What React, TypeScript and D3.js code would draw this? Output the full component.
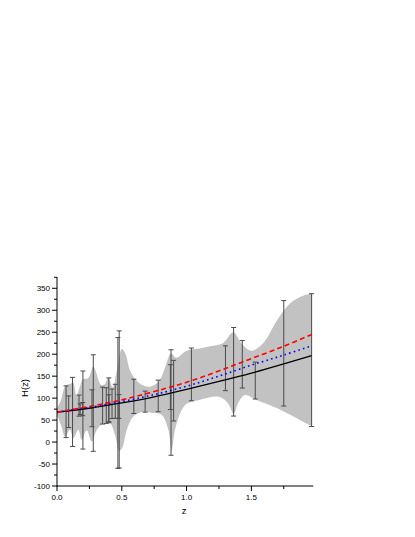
import React from "react";
import * as d3 from "d3";

// observational H(z) points, error half-widths as drawn
const zData = [0.07, 0.09, 0.12, 0.17, 0.179, 0.199, 0.2, 0.27, 0.28, 0.352, 0.3802, 0.4, 0.4004, 0.4247, 0.4497, 0.47, 0.4783, 0.48, 0.593, 0.68, 0.781, 0.875, 0.88, 0.9, 1.037, 1.3, 1.363, 1.43, 1.53, 1.75, 1.965];
const hData = [69, 69, 68.6, 83, 75, 75, 72.9, 77, 88.8, 83, 83, 95, 77, 87.1, 92.8, 89, 80.9, 97, 104, 92, 105, 125, 90, 117, 154, 168, 160, 177, 140, 202, 186.5];
const hErr = [58.8, 36, 78.6, 24, 12, 15, 88.8, 42, 109.8, 42, 40.5, 51, 30.6, 33.6, 38.7, 148.8, 27, 156, 39, 24, 36, 51, 120, 69, 60, 51, 100.8, 54, 42, 120, 151.2];

// reconstructed band
const upperZ = [0, 0.03, 0.065, 0.1, 0.125, 0.15, 0.175, 0.2, 0.24, 0.28, 0.3, 0.34, 0.37, 0.395, 0.43, 0.46, 0.5, 0.53, 0.56, 0.6, 0.65, 0.72, 0.79, 0.84, 0.88, 0.92, 1.0, 1.1, 1.18, 1.28, 1.36, 1.43, 1.5, 1.59, 1.7, 1.8, 1.9, 1.965];
const upperH = [76, 95, 128, 132, 135, 106, 125, 143, 145, 172, 160, 130, 132, 146, 125, 160, 212, 200, 166, 145, 131, 126, 140, 175, 202, 192, 208, 213, 218, 225, 250, 222, 208, 225, 278, 316, 333, 338];
const lowerZ = [0, 0.03, 0.062, 0.1, 0.126, 0.165, 0.19, 0.229, 0.268, 0.306, 0.357, 0.409, 0.448, 0.48, 0.505, 0.538, 0.589, 0.666, 0.743, 0.808, 0.859, 0.885, 0.91, 0.95, 1.0, 1.1, 1.25, 1.32, 1.363, 1.4, 1.45, 1.54, 1.7, 1.8, 1.9, 1.965];
const lowerH = [63, 40, 12, 28, 9, 28, 5, 27, 1, 27, 43, 43, 16, -20, -12, 27, 58, 69, 66, 62, 28, -20, 27, 65, 87, 96, 103, 88, 65, 90, 107, 96, 77, 62, 46, 36];

// model curves
const modelZ = [0, 0.25, 0.5, 0.75, 1.0, 1.25, 1.5, 1.75, 1.965];
const blackH = [68, 77, 89, 103, 120, 138, 157, 178, 197];
const redH = [68, 81, 96, 115, 136, 162, 190, 218, 245];
const blueH = [68, 79, 92, 108, 127, 150, 175, 198, 219];

const yTicks = [-100, -50, 0, 50, 100, 150, 200, 250, 300, 350];
const xTicks = [0, 0.5, 1.0, 1.5];

const W = 415;
const H = 537;

export default function App() {
  const x = d3.scaleLinear().domain([0, 1.978]).range([57, 313.3]);
  const y = d3.scaleLinear().domain([-100, 375]).range([486, 277.3]);

  const line = d3
    .line<[number, number]>()
    .x((d) => x(d[0]))
    .y((d) => y(d[1]))
    .curve(d3.curveCatmullRom.alpha(0.5));

  const up = upperZ.map((z, i) => [z, upperH[i]] as [number, number]);
  const lo = lowerZ.map((z, i) => [z, lowerH[i]] as [number, number]).reverse();
  const bandPath = line(up) + "L" + (line(lo) || "").slice(1) + "Z";

  const model = (vals: number[]) =>
    line(modelZ.map((z, i) => [z, vals[i]] as [number, number])) || "";

  const yMinor = d3.range(-75, 376, 50);
  const xMinor = [0.25, 0.75, 1.25, 1.75];

  return (
    <svg
      width={W}
      height={H}
      style={{ position: "absolute", left: 0, top: 0, background: "#fff" }}
      fontFamily="Liberation Sans, Arial, sans-serif"
    >
      {/* confidence band */}
      <path d={bandPath} fill="#c2c2c2" stroke="none" />

      {/* error bars */}
      {zData.map((z, i) => {
        const cx = x(z);
        const y1 = y(hData[i] + hErr[i]);
        const y2 = y(hData[i] - hErr[i]);
        return (
          <g key={i} stroke="#4a4a4a" strokeWidth={1}>
            <line x1={cx} x2={cx} y1={y1} y2={y2} />
            <line x1={cx - 2.5} x2={cx + 2.5} y1={y1} y2={y1} />
            <line x1={cx - 2.5} x2={cx + 2.5} y1={y2} y2={y2} />
          </g>
        );
      })}

      {/* model lines */}
      <path d={model(blackH)} fill="none" stroke="#000" strokeWidth={1.3} />
      <path d={model(blueH)} fill="none" stroke="#0000ff" strokeWidth={1.6} strokeDasharray="1.6,3.2" />
      <path d={model(redH)} fill="none" stroke="#ff0000" strokeWidth={1.6} strokeDasharray="5,3.2" />

      {/* axes */}
      <g stroke="#000" strokeWidth={1}>
        <line x1={57} x2={57} y1={277} y2={486.5} />
        <line x1={56.5} x2={313.3} y1={486} y2={486} />
        {yTicks.map((t) => (
          <line key={"yt" + t} x1={52} x2={57} y1={y(t)} y2={y(t)} />
        ))}
        {yMinor.map((t) => (
          <line key={"ym" + t} x1={54} x2={57} y1={y(t)} y2={y(t)} />
        ))}
        {xTicks.map((t) => (
          <line key={"xt" + t} x1={x(t)} x2={x(t)} y1={486} y2={491} />
        ))}
        {xMinor.map((t) => (
          <line key={"xm" + t} x1={x(t)} x2={x(t)} y1={486} y2={489} />
        ))}
      </g>

      {yTicks.map((t) => (
        <text key={"yl" + t} x={50} y={y(t)} dy="0.35em" textAnchor="end" fontSize={8} fill="#000">
          {t}
        </text>
      ))}
      {xTicks.map((t) => (
        <text key={"xl" + t} x={x(t)} y={499.5} textAnchor="middle" fontSize={8} fill="#000">
          {t.toFixed(1)}
        </text>
      ))}

      <text x={184} y={514} textAnchor="middle" fontSize={9.5} fill="#000">
        z
      </text>
      <text
        transform="translate(28,388) rotate(-90)"
        textAnchor="middle"
        fontSize={9.5}
        fill="#000"
      >
        H(z)
      </text>
    </svg>
  );
}
